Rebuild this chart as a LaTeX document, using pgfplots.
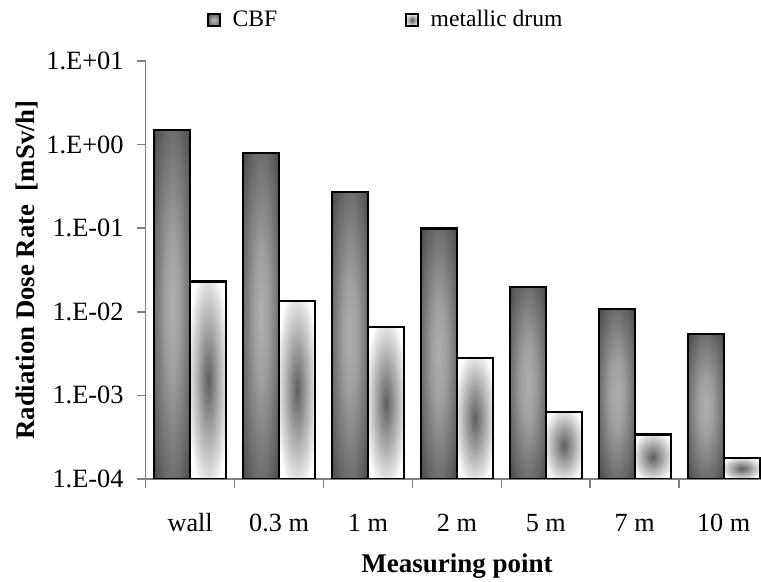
\documentclass[border=0pt]{standalone}
\usepackage{fontspec}
\setmainfont{Liberation Serif}
\usepackage{pgfplots}
\pgfplotsset{compat=1.18}
\definecolor{axisgray}{HTML}{808080}
\definecolor{cbfdark}{HTML}{404040}
\definecolor{cbflight}{HTML}{B0B0B0}
\definecolor{metalmid}{HTML}{5E5E5E}
\pgfdeclareradialshading{cbfshade}{\pgfpoint{0bp}{0bp}}{color(0bp)=(cbflight); color(10bp)=(cbflight!85!cbfdark); color(38bp)=(cbfdark); color(50bp)=(cbfdark)}
\pgfdeclareradialshading{metalshade}{\pgfpoint{0bp}{0bp}}{color(0bp)=(metalmid); color(30bp)=(white); color(50bp)=(white)}
\pgfplotsset{
  cbf/.style={ybar, bar width=0.405, bar shift=-0.2025, draw=black, line width=1.1pt, shade, shading=cbfshade,
    legend image code/.code={\draw[draw=black, line width=0.7pt, shade, shading=cbfshade] (0pt,-3pt) rectangle (6pt,3pt);}},
  metal/.style={ybar, bar width=0.405, bar shift=0.2025, draw=black, line width=1.1pt, shade, shading=metalshade,
    legend image code/.code={\draw[draw=black, line width=0.7pt, shade, shading=metalshade] (0pt,-3pt) rectangle (6pt,3pt);}},
}
\begin{document}
\begin{tikzpicture}
\begin{axis}[
  name=ax,
  scale only axis, width=307.65pt, height=209pt,
  ymode=log, log origin y=infty,
  xmin=-0.5, xmax=6.42, ymin=1e-4, ymax=10,
  axis x line*=bottom, axis y line*=left,
  axis line style={axisgray, line width=0.8pt},
  ytick={1e-4,1e-3,1e-2,1e-1,1,10},
  yticklabels={1.E-04,1.E-03,1.E-02,1.E-01,1.E+00,1.E+01},
  yminorticks=false,
  xtick={0,...,6},
  xticklabels={wall,0.3 m,1 m,2 m,5 m,7 m,10 m},
  minor xtick={-0.5,0.5,...,5.5},
  tick align=outside,
  major tick length=4.5pt, minor tick length=4.5pt,
  major x tick style={draw=none},
  minor x tick style={axisgray, line width=0.8pt},
  y tick style={axisgray, line width=0.8pt},
  yticklabel style={font=\fontsize{13.2}{15}\selectfont, xshift=-3pt},
  xticklabel style={font=\fontsize{13.1}{15}\selectfont, anchor=base, yshift=-21.7pt},
  xlabel={Measuring point},
  ylabel={Radiation Dose Rate\ \ [mSv/h]},
  xlabel style={font=\bfseries\fontsize{13.5}{16}\selectfont, at={(axis description cs:0.506,-0.2243)}, anchor=base},
  ylabel style={font=\bfseries\fontsize{13.4}{16}\selectfont, at={(axis description cs:-0.193,0.5)}, anchor=center},
  legend columns=2,
  legend style={at={(axis description cs:0.392,1.098)}, anchor=center, draw=none, fill=none,
    font=\fontsize{11.8}{14}\selectfont,
    /tikz/every odd column/.append style={column sep=4pt},
    /tikz/every even column/.append style={column sep=62pt}},
]
\addplot[cbf] coordinates {(0,1.5)};
\addplot[metal] coordinates {(0,0.023)};
\addplot[cbf, forget plot] coordinates {(1,0.80)};
\addplot[cbf, forget plot] coordinates {(2,0.27)};
\addplot[cbf, forget plot] coordinates {(3,0.099)};
\addplot[cbf, forget plot] coordinates {(4,0.020)};
\addplot[cbf, forget plot] coordinates {(5,0.0107)};
\addplot[cbf, forget plot] coordinates {(6,0.0054)};
\addplot[metal, forget plot] coordinates {(1,0.0134)};
\addplot[metal, forget plot] coordinates {(2,0.0066)};
\addplot[metal, forget plot] coordinates {(3,0.0028)};
\addplot[metal, forget plot] coordinates {(4,0.00064)};
\addplot[metal, forget plot] coordinates {(5,0.00034)};
\addplot[metal, forget plot] coordinates {(6,0.000178)};
\legend{CBF, metallic drum}
\end{axis}
\pgfresetboundingbox
\path ([xshift=-72.85pt,yshift=-51.35pt]ax.south west) rectangle ([yshift=30.5pt]ax.north east);
\end{tikzpicture}
\end{document}
